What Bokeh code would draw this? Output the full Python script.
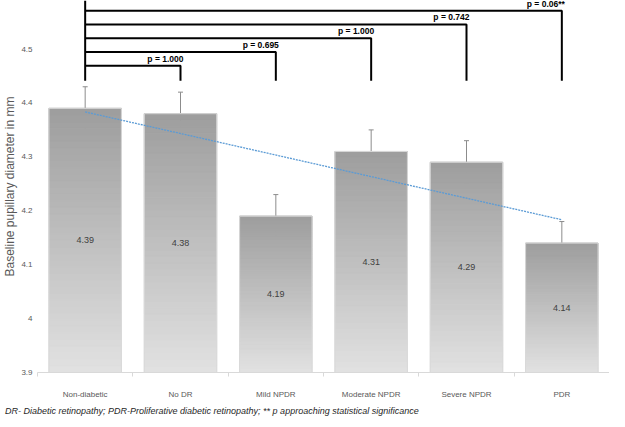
import numpy as np
from bokeh.plotting import figure
from bokeh.layouts import column
from bokeh.models import (ColumnDataSource, Whisker, TeeHead, FixedTicker, NumeralTickFormatter,
                          Range1d, Div)
from bokeh.core.properties import value
from bokeh.embed import file_html
from bokeh.resources import INLINE

# ---- data ----
categories = ["Non-diabetic", "No DR", "Mild NPDR", "Moderate NPDR", "Severe NPDR", "PDR"]
means = [4.39, 4.38, 4.19, 4.31, 4.29, 4.14]
errors = [0.04, 0.04, 0.04, 0.04, 0.04, 0.04]
p_labels = ["p = 1.000", "p = 0.695", "p = 1.000", "p = 0.742", "p = 0.06**"]
y_ticks = [3.9, 4.0, 4.1, 4.2, 4.3, 4.4, 4.5]
footnote = "DR- Diabetic retinopathy; PDR-Proliferative diabetic retinopathy; ** p approaching statistical significance"

FONT = "Liberation Sans"
BASE = 3.9
xs = list(range(len(categories)))

p = figure(width=609, height=401, output_backend="svg", toolbar_location=None,
           x_range=Range1d(-0.5, len(categories) - 0.5), y_range=Range1d(BASE, 4.59),
           min_border_left=0, min_border_right=0, min_border_top=0, min_border_bottom=0)
p.outline_line_color = None
p.grid.grid_line_color = None
p.background_fill_color = "white"
p.border_fill_color = "white"

# ---- gradient bars (stacked slices) ----
N = 40
top_c = np.array([158, 158, 158])
bot_c = np.array([226, 226, 226])
L, R, B, T, C = [], [], [], [], []
bw = 0.76
for i, v in enumerate(means):
    edges = np.linspace(BASE, v, N + 1)
    for k in range(N):
        f = (k + 0.5) / N
        c = (bot_c + (top_c - bot_c) * f).astype(int)
        L.append(i - bw / 2); R.append(i + bw / 2)
        B.append(edges[k]); T.append(edges[k + 1])
        C.append("#%02x%02x%02x" % tuple(c))
p.quad(left=L, right=R, bottom=B, top=T, fill_color=C, line_color=C, line_width=1)
p.quad(left=[i - bw / 2 for i in xs], right=[i + bw / 2 for i in xs],
       bottom=[BASE] * len(xs), top=means, fill_color=None, line_color="#d9d9d9", line_width=1)

# ---- value labels ----
p.text(x=xs, y=[(BASE + v) / 2 for v in means], text=["%.2f" % v for v in means],
       text_align="center", text_baseline="middle", text_font=value(FONT),
       text_font_size="9px", text_color="#404040")

# ---- error bars ----
esrc = ColumnDataSource(dict(x=xs, upper=[m + e for m, e in zip(means, errors)],
                             lower=[m - e for m, e in zip(means, errors)]))
p.add_layout(Whisker(source=esrc, base="x", upper="upper", lower="lower",
                     line_color="#8c8c8c", line_width=1,
                     upper_head=TeeHead(size=5, line_color="#8c8c8c", line_width=1),
                     lower_head=TeeHead(size=5, line_color="#8c8c8c", line_width=1)))

# ---- linear trend line ----
slope, intercept = np.polyfit(xs, means, 1)
p.line(x=[xs[0], xs[-1]], y=[intercept + slope * xs[0], intercept + slope * xs[-1]],
       line_color="#5b9bd5", line_width=1.3, line_dash="2 1")

# ---- significance brackets ----
lvl0, step, drop_bottom, left_top = 4.469, 0.0255, 4.441, 4.59
mx, my = [], []
levels = []
for j in range(1, len(categories)):
    lv = lvl0 + (j - 1) * step
    levels.append(lv)
    mx.append([0, j, j]); my.append([lv, lv, drop_bottom])
mx.append([0, 0]); my.append([drop_bottom, left_top])
p.multi_line(xs=mx, ys=my, line_color="black", line_width=2)
p.text(x=list(range(1, len(categories))), y=levels, text=p_labels,
       text_align="right", text_baseline="bottom", x_offset=3, y_offset=-2,
       text_font=value(FONT), text_font_style="bold", text_font_size="8.5px", text_color="black")

# ---- axes ----
ya = p.yaxis[0]
ya.ticker = FixedTicker(ticks=y_ticks)
ya.formatter = NumeralTickFormatter(format="0.[0]")
ya.axis_line_color = None
ya.major_tick_line_color = None
ya.minor_tick_line_color = None
ya.major_tick_out = 0
ya.minor_tick_out = 0
ya.major_label_text_font = FONT
ya.major_label_text_font_size = "8px"
ya.major_label_text_color = "#595959"
ya.major_label_standoff = 5
ya.axis_label = "Baseline pupillary diameter in mm"
ya.axis_label_text_font = FONT
ya.axis_label_text_font_size = "12px"
ya.axis_label_text_font_style = "normal"
ya.axis_label_text_color = "#595959"
ya.axis_label_standoff = 1

xa = p.xaxis[0]
xa.ticker = FixedTicker(ticks=xs, minor_ticks=[i - 0.5 for i in range(len(categories) + 1)])
xa.major_label_overrides = {i: c for i, c in enumerate(categories)}
xa.axis_label = None
xa.axis_label_standoff = 0
xa.axis_line_color = "#d9d9d9"
xa.major_tick_line_color = None
xa.major_tick_out = 0
xa.major_tick_in = 0
xa.minor_tick_line_color = "#d9d9d9"
xa.minor_tick_out = 4
xa.minor_tick_in = 0
xa.major_label_text_font = FONT
xa.major_label_text_font_size = "8px"
xa.major_label_text_color = "#595959"
xa.major_label_standoff = 13

note = Div(text=footnote, width=609, height=10,
           styles={"font-family": FONT, "font-style": "italic", "font-size": "9px",
                   "color": "#262626", "line-height": "10px", "white-space": "nowrap"})

layout = column(p, note, spacing=0)
open("out.html", "w").write(file_html(layout, INLINE))
